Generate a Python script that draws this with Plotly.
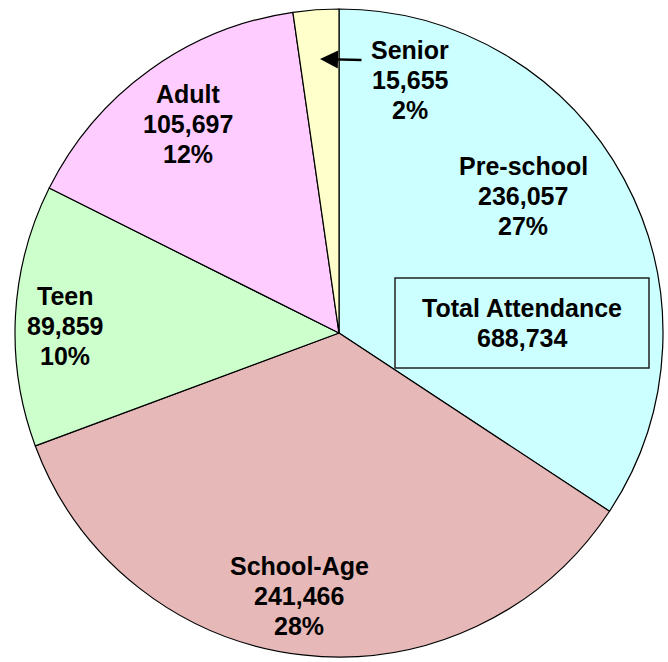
import plotly.graph_objects as go

categories = ["Pre-school", "School-Age", "Teen", "Adult", "Senior"]
values = [236057, 241466, 89859, 105697, 15655]
pct_labels = ["27%", "28%", "10%", "12%", "2%"]
total_label = "Total Attendance"
total_value = sum(values)

colors = ["#CCFFFF", "#E6B8B7", "#CCFFCC", "#FFCCFF", "#FFFFCC"]

W, H = 668, 662
cx, cy, r = 339, 333, 324

fig = go.Figure(go.Pie(
    labels=categories, values=values, sort=False, direction="clockwise",
    rotation=0, textinfo="none", hoverinfo="label+value",
    marker=dict(colors=colors, line=dict(color="black", width=1.2)),
    domain=dict(x=[max(0, (cx - r) / W), min(1, (cx + r) / W)],
                y=[max(0, (H - cy - r) / H), min(1, (H - cy + r) / H)]),
    showlegend=False,
))

# label positions (pixel centers of the middle line)
label_pos = {
    "Pre-school": (523, 196),
    "School-Age": (299, 596),
    "Teen": (65, 326),
    "Adult": (188, 124),
    "Senior": (410, 80),
}
LINE = 30
font = dict(family="Liberation Sans, Arial, sans-serif", size=25, color="black")


def add_lines(px, py_mid, lines):
    n = len(lines)
    for i, line in enumerate(lines):
        py = py_mid + (i - (n - 1) / 2) * LINE
        fig.add_annotation(
            x=px / W, y=1 - py / H, xref="paper", yref="paper",
            text=f"<b>{line}</b>", showarrow=False,
            font=font, xanchor="center", yanchor="middle",
        )


for cat, val, pct in zip(categories, values, pct_labels):
    px, py = label_pos[cat]
    add_lines(px, py, [cat, f"{val:,}", pct])

# arrow for Senior
fig.add_annotation(
    x=320 / W, y=1 - 59 / H, xref="paper", yref="paper",
    ax=43, ay=1, axref="pixel", ayref="pixel",
    text="", showarrow=True, arrowhead=2, arrowsize=1.5, arrowwidth=2.4,
    arrowcolor="black",
)

# total box
fig.add_shape(type="rect", xref="paper", yref="paper",
              x0=395 / W, x1=649 / W, y0=1 - 368 / H, y1=1 - 278 / H,
              line=dict(color="#222222", width=1.5), fillcolor="rgba(0,0,0,0)")
add_lines(522, 323, [total_label, f"{total_value:,}"])

fig.update_layout(width=W, height=H, margin=dict(l=0, r=0, t=0, b=0),
                  paper_bgcolor="white", plot_bgcolor="white")
fig.write_html("out.html")
